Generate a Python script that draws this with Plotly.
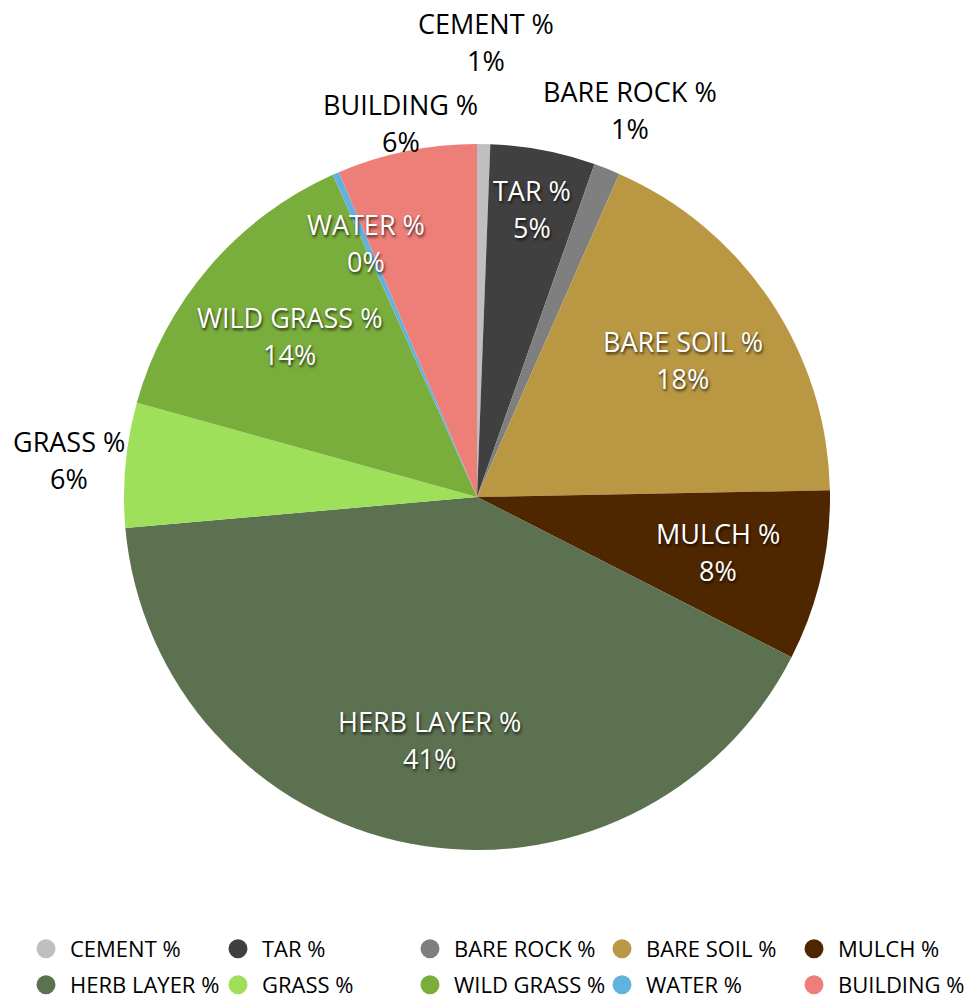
import math
import plotly.graph_objects as go

# Land-cover composition (share of surveyed area, %)
categories = ["CEMENT %", "TAR %", "BARE ROCK %", "BARE SOIL %", "MULCH %",
              "HERB LAYER %", "GRASS %", "WILD GRASS %", "WATER %", "BUILDING %"]
shares = [0.6, 4.8, 1.2, 18.1, 7.8, 41.1, 5.7, 14.0, 0.3, 6.4]
colors = ["#BFBFBF", "#404040", "#7F7F7F", "#BA9843", "#4E2700",
          "#5B7150", "#9FE05B", "#7AAE3C", "#62B2E0", "#EE7E78"]

# label placement: distance from centre as a fraction of the radius,
# and whether the label sits on the slice (white) or outside (black)
label_radius = [1.29, 0.83, 1.18, 0.70, 0.70, 0.70, 1.16, 0.70, 0.785, 1.08]
label_inside = [False, True, False, True, True, True, False, True, True, False]

W, H = 971, 1001
CX, CY, R = 477, 497, 353          # pie centre and radius in pixels
FONT = "Open Sans"

fig = go.Figure()

fig.add_trace(go.Pie(
    labels=categories,
    values=shares,
    sort=False,
    direction="clockwise",
    rotation=0,
    textinfo="none",
    hoverinfo="label+percent",
    marker=dict(colors=colors, line=dict(width=0)),
    showlegend=False,
    domain=dict(x=[(CX - R) / W, (CX + R) / W],
                y=[1 - (CY + R) / H, 1 - (CY - R) / H]),
))

# data labels: name on one line, rounded percentage below
total = sum(shares)
annotations = []
cum = 0.0
for name, v, rf, inside in zip(categories, shares, label_radius, label_inside):
    mid = (cum + v / 2) / total * 2 * math.pi
    cum += v
    px = CX + rf * R * math.sin(mid)
    py = CY - rf * R * math.cos(mid)
    pct = f"{round(v / total * 100)}%"
    if inside:
        font = dict(family=FONT, size=27, color="white",
                    shadow="1px 2px 3px rgba(0,0,0,0.75)")
    else:
        font = dict(family=FONT, size=27, color="#000000")
    for text, dy in ((name, -18.5), (pct, 18.5)):
        annotations.append(dict(
            x=px / W, y=1 - (py + dy) / H, xref="paper", yref="paper",
            text=text, showarrow=False, font=font,
            xanchor="center", yanchor="middle",
        ))

# legend: circle markers, two rows of five
for i, (name, c) in enumerate(zip(categories, colors)):
    fig.add_trace(go.Scatter(
        x=[None], y=[None], mode="markers", name=name,
        marker=dict(symbol="circle", size=16, color=c,
                    line=dict(width=3, color=c)),
        legend="legend" if i < 5 else "legend2",
        hoverinfo="skip",
    ))

legend_common = dict(
    orientation="h", xanchor="left", yanchor="middle",
    x=22 / W, itemwidth=38, entrywidth=139, entrywidthmode="pixels",
    font=dict(family=FONT, size=22, color="#000000"),
    bgcolor="rgba(0,0,0,0)", borderwidth=0, itemclick=False,
    itemdoubleclick=False,
)

fig.update_layout(
    width=W, height=H,
    margin=dict(l=0, r=0, t=0, b=0, autoexpand=False),
    paper_bgcolor="white",
    plot_bgcolor="white",
    xaxis=dict(visible=False),
    yaxis=dict(visible=False),
    annotations=annotations,
    legend=dict(y=1 - 949 / H, **legend_common),
    legend2=dict(y=1 - 985 / H, **legend_common),
)

fig.write_html("out.html")
